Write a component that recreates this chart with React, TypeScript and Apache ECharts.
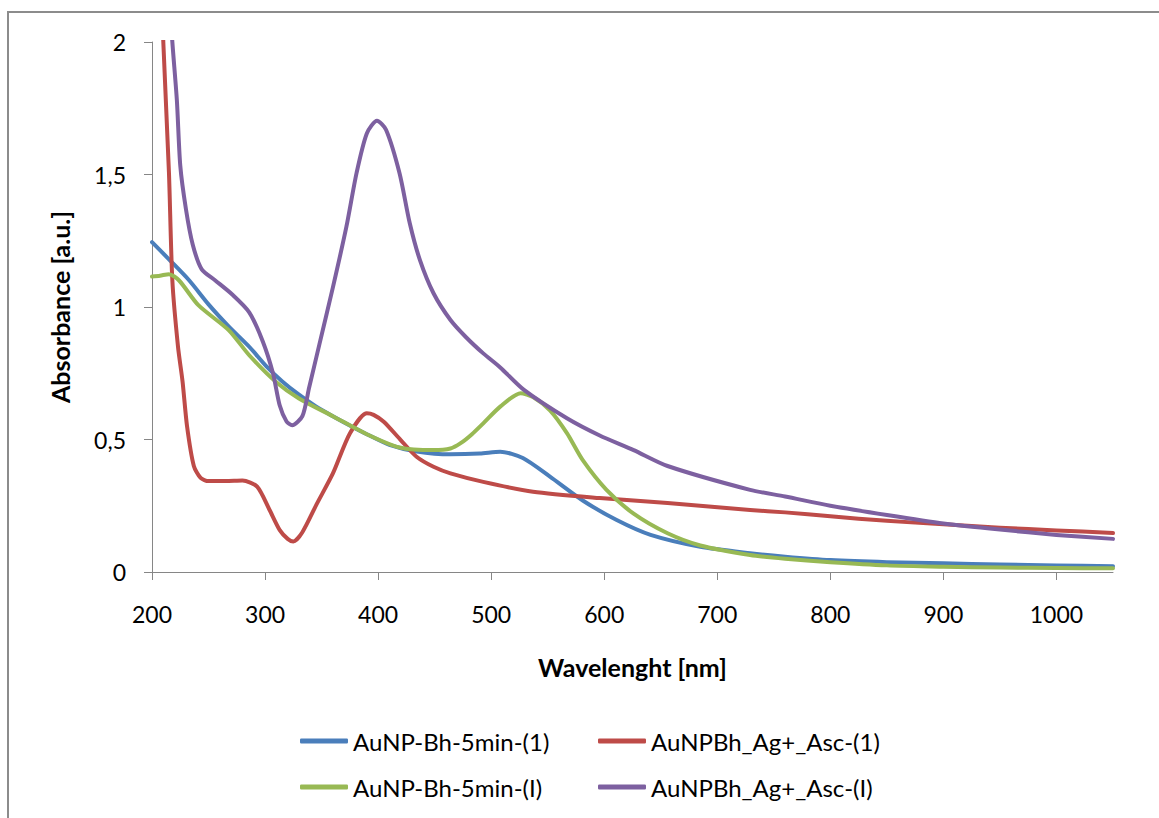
import React, { useEffect, useRef } from "react";
import * as echarts from "echarts";

// Wavelength (nm) and absorbance (a.u.)
const blueNm = [200, 215, 233, 250, 268, 286, 301, 315, 330, 345, 360, 375, 390, 410, 434, 464, 490, 508, 528, 552, 581, 611, 641, 685, 729, 760, 800, 850, 900, 950, 1000, 1050];
const blueAbs = [1.245, 1.18, 1.1, 1.01, 0.926, 0.85, 0.777, 0.72, 0.669, 0.625, 0.588, 0.553, 0.52, 0.48, 0.455, 0.444, 0.447, 0.454, 0.43, 0.36, 0.27, 0.196, 0.14, 0.095, 0.071, 0.058, 0.045, 0.037, 0.033, 0.028, 0.025, 0.022];

const redNm = [207, 210, 215, 218, 223, 227, 231, 237, 243, 250, 265, 280, 293, 304, 313, 320, 325, 333, 346, 360, 375, 390, 396, 405, 420, 434, 449, 464, 493, 537, 596, 656, 729, 760, 800, 850, 900, 950, 1000, 1050];
const redAbs = [2.4, 2.0, 1.507, 1.1, 0.85, 0.72, 0.55, 0.4, 0.355, 0.343, 0.343, 0.345, 0.322, 0.234, 0.158, 0.125, 0.115, 0.15, 0.259, 0.372, 0.523, 0.599, 0.593, 0.567, 0.498, 0.435, 0.397, 0.372, 0.34, 0.303, 0.279, 0.26, 0.234, 0.225, 0.21, 0.193, 0.18, 0.167, 0.157, 0.147];

const greenNm = [200, 207, 215, 224, 241, 268, 286, 310, 330, 360, 390, 419, 449, 464, 473, 483, 493, 508, 526, 537, 552, 567, 581, 602, 626, 656, 685, 729, 760, 800, 850, 900, 950, 1000, 1050];
const greenAbs = [1.115, 1.118, 1.124, 1.1, 1.007, 0.912, 0.818, 0.716, 0.655, 0.588, 0.52, 0.47, 0.46, 0.466, 0.486, 0.52, 0.561, 0.624, 0.675, 0.66, 0.61, 0.524, 0.422, 0.31, 0.22, 0.146, 0.1, 0.064, 0.05, 0.037, 0.025, 0.02, 0.017, 0.015, 0.014];

const purpleNm = [215, 218, 222, 225, 230, 236, 244, 256, 271, 286, 298, 307, 313, 319, 324, 333, 339, 348, 360, 372, 381, 390, 399, 407, 419, 428, 437, 449, 464, 478, 493, 508, 529, 567, 596, 626, 656, 729, 760, 800, 850, 900, 950, 1000, 1050];
const purpleAbs = [2.2, 2.0, 1.78, 1.534, 1.37, 1.236, 1.142, 1.1, 1.047, 0.98, 0.87, 0.75, 0.628, 0.568, 0.554, 0.588, 0.696, 0.858, 1.074, 1.304, 1.507, 1.655, 1.703, 1.669, 1.504, 1.316, 1.177, 1.052, 0.951, 0.885, 0.825, 0.772, 0.687, 0.58, 0.515, 0.46, 0.4, 0.31, 0.285, 0.25, 0.215, 0.183, 0.16, 0.14, 0.125];

const seriesNames = ["AuNP-Bh-5min-(1)", "AuNPBh_Ag+_Asc-(1)", "AuNP-Bh-5min-(I)", "AuNPBh_Ag+_Asc-(I)"];
const seriesColors = ["#4A7EBB", "#BE4B48", "#98B954", "#7D60A0"];
const xTickValues = [200, 300, 400, 500, 600, 700, 800, 900, 1000];
const yTickValues = [0, 0.5, 1, 1.5, 2];

const FONT = "Lato, 'Noto Sans', sans-serif";

function zip(xs: number[], ys: number[]) {
  return xs.map((x, i) => [x, ys[i]]);
}

export default function App() {
  const ref = useRef<HTMLDivElement>(null);
  useEffect(() => {
    if (!ref.current) return;
    const chart = echarts.init(ref.current, undefined, { renderer: "svg" });
    const datasets = [zip(blueNm, blueAbs), zip(redNm, redAbs), zip(greenNm, greenAbs), zip(purpleNm, purpleAbs)];
    const legendPos = [
      { left: 300, top: 729 },
      { left: 598, top: 729 },
      { left: 300, top: 775 },
      { left: 598, top: 775 },
    ];
    chart.setOption({
      animation: false,
      backgroundColor: "#ffffff",
      textStyle: { fontFamily: FONT },
      grid: { left: 152, top: 42, right: 46, bottom: 246, containLabel: false },
      graphic: [
        {
          type: "rect",
          shape: { x: 8, y: 12, width: 1200, height: 900 },
          style: { fill: "none", stroke: "#8c8c8c", lineWidth: 2 },
          silent: true,
        },
      ],
      legend: legendPos.map((p, i) => ({
        data: [seriesNames[i]],
        left: p.left,
        top: p.top,
        orient: "horizontal",
        icon: "roundRect",
        itemWidth: 48,
        itemHeight: 5,
        itemGap: 5,
        textStyle: { fontFamily: FONT, fontSize: 24, color: "#000" },
        padding: 0,
      })),
      xAxis: {
        type: "value",
        min: 200,
        max: 1050,
        interval: 100,
        name: "Wavelenght [nm]",
        nameLocation: "middle",
        nameGap: 82,
        nameTextStyle: { fontFamily: FONT, fontSize: 25, fontWeight: "bold", color: "#000" },
        axisLine: { show: true, lineStyle: { color: "#868686", width: 1 } },
        axisTick: { show: true, length: 8, lineStyle: { color: "#868686" }, customValues: xTickValues },
        axisLabel: {
          fontFamily: FONT,
          fontSize: 23,
          color: "#000",
          margin: 30,
          customValues: xTickValues,
          formatter: (v: number) => String(v),
        },
        splitLine: { show: false },
      },
      yAxis: {
        type: "value",
        min: 0,
        max: 2,
        interval: 0.5,
        name: "Absorbance [a.u.]",
        nameLocation: "middle",
        nameGap: 80,
        nameTextStyle: { fontFamily: FONT, fontSize: 25, fontWeight: "bold", color: "#000" },
        axisLine: { show: true, lineStyle: { color: "#868686", width: 1 } },
        axisTick: { show: true, length: 8, lineStyle: { color: "#868686" }, customValues: yTickValues },
        axisLabel: {
          fontFamily: FONT,
          fontSize: 23,
          color: "#000",
          margin: 26,
          customValues: yTickValues,
          formatter: (v: number) => String(v).replace(".", ","),
        },
        splitLine: { show: false },
      },
      series: datasets.map((d, i) => ({
        name: seriesNames[i],
        type: "line",
        data: d,
        showSymbol: false,
        symbol: "none",
        smooth: 0.25,
        clip: true,
        lineStyle: { color: seriesColors[i], width: 4, join: "round", cap: "round" },
        itemStyle: { color: seriesColors[i] },
      })),
    });
    return () => chart.dispose();
  }, []);
  return (
    <div style={{ position: "fixed", left: 0, top: 0, width: 1159, height: 818, background: "#fff" }}>
      <div ref={ref} style={{ width: 1159, height: 818 }} />
    </div>
  );
}
